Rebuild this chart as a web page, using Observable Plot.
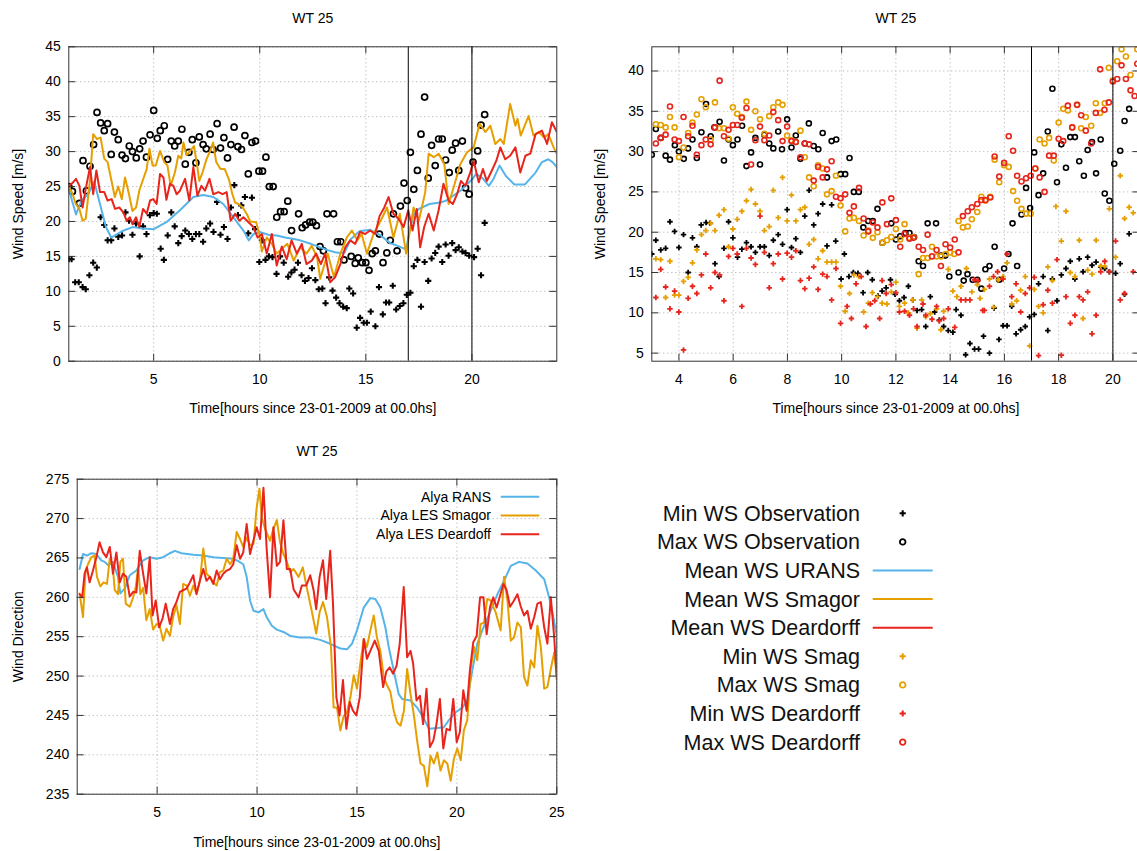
<!DOCTYPE html>
<html><head><meta charset="utf-8">
<script src="https://cdn.jsdelivr.net/npm/d3@7"></script>
<script src="https://cdn.jsdelivr.net/npm/@observablehq/plot@0.6"></script>
<style>
html,body{margin:0;padding:0;background:#fff;overflow:hidden;}
#wrap{position:relative;width:1137px;height:851px;overflow:hidden;font-family:"Liberation Sans",Arial,sans-serif;background:#fff;}
.panel{position:absolute;}
</style></head><body><div id="wrap"></div>
<script>
// ---------------- DATA ----------------
const plotTitle = "WT 25";
const xLabel = "Time[hours since 23-01-2009 at 00.0hs]";
const wsLabel = "Wind Speed [m/s]";
const wdLabel = "Wind Direction";

// observations (time h, wind speed m/s)
const obsMax = [[1.0,25.0],[1.17,24.3],[1.5,22.6],[1.67,28.7],[1.83,24.4],[2.0,27.9],[2.17,31.0],[2.33,35.6],[2.5,34.1],[2.67,33.0],[2.83,34.0],[3.0,29.6],[3.15,32.8],[3.33,31.7],[3.51,29.5],[3.67,29.0],[3.85,30.8],[4.0,30.0],[4.18,29.1],[4.34,30.4],[4.5,31.5],[4.66,29.2],[4.83,32.4],[5.0,35.9],[5.17,31.9],[5.31,33.0],[5.5,33.7],[5.66,28.9],[5.83,31.5],[5.99,30.8],[6.16,31.5],[6.33,33.2],[6.49,28.2],[6.66,29.9],[6.82,31.7],[6.99,28.4],[7.15,32.1],[7.33,31.0],[7.48,30.4],[7.66,32.5],[7.8,30.3],[7.99,34.0],[8.15,30.5],[8.31,32.0],[8.48,29.1],[8.64,31.0],[8.79,33.5],[8.97,30.7],[9.14,30.3],[9.3,32.3],[9.46,26.8],[9.63,31.3],[9.8,31.5],[9.96,27.2],[10.13,27.2],[10.29,29.2],[10.45,25.0],[10.63,25.0],[10.8,20.6],[10.98,21.4],[11.15,21.4],[11.32,22.9],[11.5,18.7],[11.83,21.1],[12.0,19.1],[12.16,19.5],[12.35,19.9],[12.5,19.9],[12.67,19.4],[12.84,16.4],[13.0,15.8],[13.17,21.1],[13.48,21.1],[13.66,17.1],[13.82,17.1],[13.97,14.5],[14.31,15.0],[14.5,14.0],[14.64,14.8],[14.83,14.1],[15.0,14.1],[15.15,13.0],[15.3,15.4],[15.45,15.8],[15.64,18.2],[15.81,14.1],[15.99,15.5],[16.15,17.3],[16.3,21.1],[16.47,15.8],[16.63,22.2],[16.8,25.5],[16.95,23.0],[17.1,29.9],[17.26,24.6],[17.43,27.3],[17.6,32.5],[17.77,37.8],[17.94,26.2],[18.1,30.9],[18.27,28.0],[18.43,31.8],[18.6,31.8],[18.76,28.8],[18.93,27.0],[19.07,30.2],[19.23,31.2],[19.38,27.3],[19.55,31.5],[19.7,24.8],[19.87,23.9],[20.05,28.5],[20.27,30.1],[20.43,33.8],[20.6,35.3]];
const obsMin = [[1.0,14.6],[1.13,14.6],[1.3,11.3],[1.47,11.3],[1.65,10.6],[1.8,10.3],[1.97,12.3],[2.15,14.1],[2.32,13.4],[2.5,20.6],[2.67,19.5],[2.83,17.3],[3.0,17.3],[3.15,19.0],[3.33,17.8],[3.51,18.0],[3.67,21.3],[3.84,20.1],[4.0,18.1],[4.17,19.7],[4.34,15.0],[4.5,19.3],[4.66,18.2],[4.82,20.9],[5.0,21.2],[5.15,21.1],[5.33,16.1],[5.48,14.5],[5.66,18.0],[5.83,21.3],[5.99,19.3],[6.16,16.9],[6.32,17.9],[6.49,18.7],[6.66,18.2],[6.82,17.5],[6.99,18.2],[7.15,18.2],[7.33,17.1],[7.48,19.0],[7.66,19.7],[7.82,18.5],[7.99,22.8],[8.15,18.1],[8.31,19.2],[8.48,17.5],[8.64,22.0],[8.8,25.2],[8.97,20.9],[9.13,22.3],[9.3,23.5],[9.46,18.3],[9.63,23.4],[9.78,18.9],[9.98,14.2],[10.1,17.3],[10.27,14.5],[10.43,15.0],[10.6,14.9],[10.79,12.5],[10.96,15.0],[11.13,14.1],[11.34,12.1],[11.49,12.7],[11.64,13.1],[11.8,14.1],[11.97,12.3],[12.13,11.5],[12.3,11.9],[12.46,13.3],[12.62,11.6],[12.78,10.3],[12.95,10.4],[13.1,8.3],[13.27,12.0],[13.43,10.1],[13.6,9.1],[13.76,8.3],[13.93,7.8],[14.1,7.6],[14.22,10.4],[14.4,9.7],[14.57,4.8],[14.73,6.2],[14.9,5.5],[15.05,5.5],[15.23,7.1],[15.45,5.0],[15.62,10.6],[15.8,6.7],[15.95,8.4],[16.1,8.4],[16.27,10.8],[16.43,7.4],[16.6,7.9],[16.77,8.3],[16.93,9.5],[17.1,9.8],[17.26,13.6],[17.43,14.5],[17.6,7.8],[17.77,14.2],[17.94,11.5],[18.1,14.7],[18.27,15.5],[18.43,16.4],[18.6,14.2],[18.76,16.7],[18.9,15.1],[19.07,16.9],[19.23,15.9],[19.38,16.3],[19.55,15.7],[19.7,15.5],[19.87,15.1],[20.1,14.9],[20.27,16.1],[20.43,12.3],[20.6,19.8]];

// mean wind speed (time h, m/s)
const meanUrans = [[1.0,24.9],[1.15,23.0],[1.34,21.0],[1.6,23.0],[1.9,23.9],[2.2,25.7],[2.47,22.5],[2.75,19.2],[3.0,17.7],[3.18,18.0],[3.5,18.6],[4.0,19.2],[4.5,19.0],[5.0,18.9],[5.6,19.9],[6.24,21.6],[6.87,23.5],[7.34,23.8],[7.81,23.5],[8.28,22.5],[8.76,20.6],[9.23,18.7],[9.48,17.3],[9.7,18.2],[10.0,18.5],[10.4,18.1],[10.8,18.0],[11.2,17.7],[11.6,17.5],[11.9,17.3],[12.4,16.8],[12.85,16.3],[13.2,15.9],[13.55,15.6],[13.8,15.5],[14.0,15.6],[14.3,17.5],[14.7,18.6],[15.2,18.8],[15.7,18.0],[16.15,16.9],[16.5,16.5],[16.9,16.0],[17.05,18.5],[17.25,21.0],[17.5,21.8],[18.0,22.5],[18.5,22.7],[18.8,23.0],[19.5,24.5],[20.0,26.0],[20.2,26.8],[20.5,26.2],[20.8,25.1],[21.0,26.0],[21.3,28.0],[21.6,26.5],[22.0,25.3],[22.5,25.3],[23.0,27.0],[23.3,28.5],[23.6,28.9],[23.8,28.5],[24.0,27.8]];
const meanSmag = [[1.0,25.0],[1.17,24.0],[1.33,22.5],[1.5,21.8],[1.65,20.1],[1.8,20.4],[2.0,26.0],[2.15,32.5],[2.33,31.8],[2.5,32.0],[2.67,29.0],[2.83,28.5],[3.0,26.0],[3.17,23.5],[3.33,25.0],[3.5,23.2],[3.65,26.3],[3.83,24.0],[4.0,21.5],[4.17,22.0],[4.33,24.5],[4.5,26.0],[4.67,27.5],[4.8,30.4],[4.95,28.0],[5.1,28.0],[5.3,30.1],[5.5,28.5],[5.65,28.0],[5.8,25.1],[6.0,27.0],[6.16,29.4],[6.3,29.0],[6.4,31.3],[6.55,29.5],[6.7,30.0],[6.9,30.8],[7.05,28.0],[7.15,25.8],[7.3,27.0],[7.5,29.0],[7.65,30.0],[7.8,31.3],[7.95,28.5],[8.15,27.5],[8.35,27.5],[8.55,26.0],[8.7,24.0],[8.84,22.7],[9.0,22.5],[9.2,22.0],[9.4,21.0],[9.55,20.0],[9.83,19.9],[10.0,18.0],[10.1,15.7],[10.33,17.7],[10.57,16.8],[10.8,15.4],[11.04,16.1],[11.3,16.8],[11.6,14.4],[11.9,16.3],[12.2,15.4],[12.45,16.5],[12.7,14.9],[12.85,11.8],[13.2,15.4],[13.5,12.0],[13.8,15.4],[14.1,17.7],[14.34,18.7],[14.6,17.3],[14.8,18.2],[15.05,15.4],[15.36,18.2],[15.7,20.1],[16.0,22.0],[16.3,17.7],[16.6,21.1],[16.9,15.4],[17.25,22.0],[17.5,20.1],[17.8,24.2],[17.96,29.7],[18.2,29.2],[18.43,29.7],[18.7,28.2],[18.9,22.5],[19.14,24.9],[19.45,28.2],[19.77,29.9],[20.08,30.6],[20.36,34.0],[20.63,32.8],[20.87,33.7],[21.1,31.1],[21.34,31.8],[21.5,31.1],[21.8,36.8],[22.05,33.7],[22.15,34.7],[22.3,32.3],[22.67,35.1],[22.9,32.3],[23.15,32.8],[23.4,32.0],[23.6,32.5],[23.85,30.6],[24.0,29.7]];
const meanDeard = [[1.0,25.1],[1.17,25.5],[1.34,26.1],[1.5,25.1],[1.65,22.0],[1.8,24.7],[2.0,27.8],[2.15,23.9],[2.3,27.3],[2.47,24.2],[2.67,24.2],[2.83,23.0],[3.02,23.2],[3.18,21.8],[3.38,22.0],[3.57,21.3],[3.73,20.1],[3.88,20.6],[4.0,19.6],[4.17,20.6],[4.32,19.2],[4.5,21.8],[4.67,21.1],[4.83,23.0],[4.98,23.2],[5.14,22.5],[5.3,26.8],[5.46,26.3],[5.6,23.1],[5.77,25.4],[5.93,25.1],[6.08,23.9],[6.24,24.4],[6.48,26.1],[6.68,23.0],[6.87,27.8],[7.06,23.7],[7.25,25.1],[7.42,24.4],[7.63,26.1],[7.81,23.9],[8.05,24.2],[8.25,23.9],[8.44,24.2],[8.63,20.1],[8.84,21.1],[9.04,20.1],[9.23,20.6],[9.47,19.9],[9.7,19.2],[9.9,17.7],[10.1,18.2],[10.33,15.4],[10.57,18.2],[10.8,13.7],[11.04,16.4],[11.27,14.6],[11.5,17.3],[11.75,15.4],[11.98,16.8],[12.2,13.9],[12.45,14.4],[12.66,15.4],[12.88,13.9],[13.08,15.4],[13.32,11.3],[13.55,12.0],[13.8,13.9],[14.03,16.3],[14.26,17.3],[14.5,16.8],[14.73,18.5],[14.97,18.2],[15.2,18.7],[15.44,18.2],[15.65,20.8],[15.87,22.0],[16.07,23.5],[16.3,21.1],[16.54,20.4],[16.78,19.2],[17.0,21.6],[17.2,18.7],[17.4,21.8],[17.56,16.3],[17.75,19.2],[17.96,21.1],[18.2,18.7],[18.43,21.6],[18.66,25.4],[18.9,23.0],[19.1,22.5],[19.3,23.9],[19.48,25.8],[19.69,25.1],[19.9,26.8],[20.08,28.7],[20.32,25.6],[20.52,27.5],[20.7,25.8],[20.94,27.3],[21.15,28.7],[21.34,30.6],[21.57,28.9],[21.8,29.4],[22.05,30.6],[22.28,27.0],[22.52,29.4],[22.75,29.7],[23.0,32.5],[23.3,33.0],[23.54,31.1],[23.77,34.2],[24.0,32.8]];

// simulated min / max wind speed (time h, m/s)
const smagMax = [[3.15,33.4],[3.33,33.3],[3.51,33.0],[3.67,34.3],[3.84,33.0],[4.0,29.3],[4.17,30.5],[4.34,32.3],[4.5,33.6],[4.66,34.6],[4.83,36.5],[4.99,35.5],[5.17,31.5],[5.33,36.1],[5.48,32.9],[5.66,32.9],[5.83,31.6],[5.99,35.5],[6.15,34.7],[6.32,34.3],[6.49,36.2],[6.66,32.7],[6.82,35.0],[6.99,34.0],[7.15,32.2],[7.33,34.4],[7.48,35.5],[7.66,36.1],[7.82,35.8],[7.99,32.0],[8.15,31.4],[8.31,31.2],[8.48,32.6],[8.64,29.3],[8.8,26.8],[8.97,25.7],[9.13,28.3],[9.3,27.9],[9.46,24.7],[9.63,25.1],[9.79,27.0],[9.96,23.3],[10.13,20.1],[10.29,21.7],[10.45,21.8],[10.64,21.4],[10.81,19.6],[10.98,20.2],[11.15,19.3],[11.32,20.0],[11.5,18.7],[11.67,19.0],[11.83,19.4],[12.0,20.4],[12.16,19.1],[12.32,21.0],[12.5,19.3],[12.65,19.4],[12.84,14.8],[13.0,16.8],[13.17,16.8],[13.33,18.2],[13.5,17.0],[13.66,17.0],[13.83,17.3],[14.0,17.5],[14.15,17.3],[14.31,21.4],[14.47,20.6],[14.65,20.7],[14.8,21.6],[15.0,22.5],[15.15,24.4],[15.3,23.9],[15.48,24.4],[15.64,29.0],[15.81,26.2],[15.99,28.3],[16.16,28.1],[16.32,25.1],[16.47,23.9],[16.63,22.9],[16.8,22.3],[16.97,22.3],[17.14,27.9],[17.3,31.5],[17.48,31.0],[17.65,31.7],[17.82,28.9],[18.0,33.6],[18.17,35.3],[18.34,35.1],[18.5,33.0],[18.68,35.8],[18.83,32.9],[19.0,34.3],[19.2,33.2],[19.37,36.0],[19.53,34.8],[19.7,36.0],[19.85,40.4],[20.0,38.8],[20.16,41.2],[20.32,42.7],[20.48,41.8],[20.65,39.5],[20.9,42.7]];
const smagMin = [[3.15,16.7],[3.33,16.6],[3.51,11.9],[3.67,16.4],[3.84,12.2],[4.0,12.2],[4.17,13.9],[4.34,14.4],[4.5,16.2],[4.66,17.8],[4.83,19.7],[4.99,20.2],[5.17,21.1],[5.33,20.2],[5.48,22.1],[5.66,22.8],[5.83,18.2],[5.99,20.4],[6.15,21.6],[6.32,22.6],[6.49,23.9],[6.66,25.3],[6.82,23.5],[6.99,22.6],[7.15,20.2],[7.33,20.7],[7.48,25.2],[7.66,21.8],[7.82,26.8],[7.99,21.4],[8.15,24.6],[8.31,21.4],[8.48,22.8],[8.64,23.1],[8.8,18.5],[8.97,19.1],[9.13,16.7],[9.3,17.7],[9.46,16.3],[9.63,16.3],[9.79,16.3],[9.96,13.3],[10.13,10.2],[10.29,12.4],[10.45,14.7],[10.64,14.5],[10.81,10.1],[10.98,11.2],[11.13,12.5],[11.32,12.0],[11.49,11.2],[11.67,11.1],[11.83,12.6],[12.0,13.8],[12.13,10.8],[12.32,11.2],[12.46,10.0],[12.62,11.6],[12.78,8.1],[12.95,11.6],[13.1,9.5],[13.27,9.9],[13.5,10.5],[13.66,7.9],[13.76,10.2],[13.93,15.4],[14.1,12.7],[14.25,12.0],[14.4,13.3],[14.6,15.5],[14.8,12.6],[15.0,13.5],[15.1,11.8],[15.26,12.9],[15.45,14.2],[15.6,10.7],[15.77,14.1],[15.95,14.5],[16.1,16.2],[16.27,11.1],[16.45,11.5],[16.6,12.8],[16.77,14.5],[16.93,5.9],[17.1,12.9],[17.26,10.8],[17.43,10.0],[17.6,15.7],[17.77,14.0],[17.9,23.2],[18.1,18.9],[18.27,22.6],[18.43,15.0],[18.6,14.5],[18.76,19.0],[18.9,9.3],[19.07,15.3],[19.23,14.8],[19.38,19.0],[19.55,15.8],[19.7,15.8],[19.87,22.9],[20.1,16.9],[20.27,27.0],[20.43,21.7],[20.6,23.1],[20.75,22.4]];
const deardMax = [[3.15,31.0],[3.33,31.7],[3.51,32.1],[3.67,35.6],[3.84,31.5],[4.0,31.3],[4.17,34.3],[4.34,31.9],[4.5,33.2],[4.66,29.6],[4.83,30.8],[4.99,31.5],[5.17,30.9],[5.33,33.0],[5.5,38.8],[5.66,31.9],[5.83,32.7],[5.99,33.3],[6.15,33.3],[6.32,34.2],[6.49,35.4],[6.66,28.4],[6.82,31.4],[6.99,33.1],[7.15,31.4],[7.33,32.0],[7.48,34.9],[7.66,33.9],[7.82,31.3],[7.99,33.1],[8.15,31.3],[8.31,31.2],[8.48,29.3],[8.64,31.0],[8.8,30.9],[8.97,26.4],[9.13,28.1],[9.3,26.8],[9.46,27.8],[9.63,28.8],[9.79,24.4],[9.96,24.2],[10.13,24.7],[10.29,22.4],[10.45,23.2],[10.64,25.5],[10.81,21.7],[10.98,20.1],[11.15,21.2],[11.32,20.6],[11.5,23.7],[11.67,21.0],[11.83,24.2],[12.0,21.5],[12.16,18.2],[12.32,19.8],[12.5,19.2],[12.65,19.3],[12.84,18.2],[13.0,17.8],[13.17,19.7],[13.33,17.0],[13.5,17.8],[13.66,15.8],[13.83,18.5],[14.0,18.1],[14.17,19.1],[14.31,17.5],[14.47,22.0],[14.65,22.6],[14.8,23.1],[15.0,23.5],[15.15,24.0],[15.3,24.0],[15.48,24.3],[15.64,29.4],[15.81,26.9],[15.99,28.6],[16.16,31.9],[16.32,30.1],[16.47,27.0],[16.63,26.3],[16.8,26.7],[16.97,27.0],[17.14,27.9],[17.3,26.8],[17.48,25.0],[17.65,29.5],[17.82,29.5],[18.0,31.6],[18.17,31.3],[18.34,35.7],[18.5,33.0],[18.68,35.8],[18.83,34.5],[19.0,32.6],[19.2,31.0],[19.37,34.8],[19.53,40.2],[19.69,35.2],[19.85,36.1],[20.0,38.7],[20.16,39.0],[20.32,40.7],[20.48,39.0],[20.65,37.6],[20.8,36.9],[20.9,40.9]];
const deardMin = [[3.15,11.9],[3.33,15.4],[3.51,13.2],[3.67,10.5],[3.84,12.7],[4.0,10.1],[4.17,5.4],[4.34,11.8],[4.5,13.3],[4.66,12.4],[4.83,14.7],[4.99,17.3],[5.17,13.1],[5.33,15.0],[5.5,14.7],[5.66,11.5],[5.83,17.0],[5.99,18.0],[6.15,17.3],[6.32,10.8],[6.49,18.0],[6.66,16.8],[6.82,16.0],[6.99,22.0],[7.15,17.5],[7.33,13.1],[7.48,16.1],[7.66,17.3],[7.82,14.2],[7.99,17.4],[8.15,16.9],[8.31,17.7],[8.48,14.0],[8.64,13.0],[8.8,14.3],[8.97,15.7],[9.13,12.9],[9.3,14.8],[9.46,14.5],[9.63,11.6],[9.79,15.5],[9.96,8.7],[10.2,10.8],[10.36,9.3],[10.53,13.6],[10.72,14.5],[10.9,8.3],[11.06,11.1],[11.22,11.5],[11.4,9.3],[11.49,14.0],[11.64,12.4],[11.83,13.5],[12.0,12.5],[12.13,10.1],[12.32,10.2],[12.5,9.7],[12.65,10.5],[12.78,8.3],[13.0,11.1],[13.1,9.7],[13.33,9.2],[13.5,10.8],[13.6,9.0],[13.76,9.3],[13.93,10.5],[14.17,8.2],[14.4,11.6],[14.57,11.6],[14.73,11.6],[14.9,14.1],[15.03,14.0],[15.2,10.3],[15.26,10.3],[15.45,13.3],[15.6,14.5],[15.75,15.1],[15.95,14.2],[16.1,17.3],[16.27,12.0],[16.43,13.6],[16.6,10.1],[16.77,12.4],[16.93,13.1],[17.1,14.4],[17.26,4.7],[17.43,11.0],[17.6,12.8],[17.77,11.2],[17.94,16.6],[18.1,4.75],[18.27,12.0],[18.43,8.7],[18.6,9.7],[18.76,12.0],[18.9,11.6],[19.07,12.6],[19.23,7.4],[19.38,9.7],[19.55,15.1],[19.7,16.4],[19.87,15.1],[20.1,18.9],[20.27,11.6],[20.43,12.4],[20.75,15.1]];

// wind direction (time h, degrees)
const dirRans = [[1.12,263.6],[1.29,265.5],[1.49,265.3],[1.71,265.6],[1.96,265.5],[2.2,264.7],[2.37,264.5],[2.54,264.1],[2.79,264.5],[3.04,262.6],[3.16,260.5],[3.38,261.1],[3.63,262.8],[3.96,263.4],[4.3,264.7],[4.63,265.1],[4.97,264.9],[5.3,265.1],[5.64,265.6],[5.89,265.9],[6.22,265.6],[6.81,265.4],[7.31,265.3],[7.81,265.1],[8.31,265.0],[8.81,264.9],[9.06,264.6],[9.31,264.2],[9.48,262.6],[9.65,259.6],[9.82,258.3],[10.07,258.1],[10.32,258.5],[10.48,257.5],[10.74,256.4],[10.99,255.9],[11.32,255.6],[11.66,255.1],[12.16,254.9],[12.66,254.9],[13.16,254.6],[13.66,254.1],[14.17,253.5],[14.5,253.4],[14.75,254.1],[15.0,255.8],[15.34,258.7],[15.67,259.9],[15.92,259.8],[16.17,258.7],[16.42,256.2],[16.59,253.7],[16.84,250.7],[17.09,247.7],[17.26,247.1],[17.68,246.9],[18.01,246.0],[18.35,244.6],[18.6,243.3],[19.02,243.4],[19.35,243.5],[19.6,244.4],[19.94,245.4],[20.27,246.0],[20.52,246.9],[20.77,250.7],[21.02,254.1],[21.27,255.8],[21.69,258.3],[22.03,260.4],[22.36,262.1],[22.7,264.0],[23.11,264.5],[23.53,264.3],[23.95,263.4],[24.37,262.3],[24.7,259.2],[25.0,255.1]];
const dirSmag = [[1.12,260.5],[1.29,257.5],[1.42,263.4],[1.54,264.2],[1.71,265.1],[1.87,265.3],[1.99,262.6],[2.16,261.4],[2.32,261.9],[2.49,261.7],[2.63,264.9],[2.79,263.6],[2.88,260.9],[3.04,260.4],[3.16,264.5],[3.29,264.9],[3.43,259.2],[3.63,258.8],[3.8,260.0],[3.93,261.3],[4.05,263.8],[4.16,260.4],[4.3,261.2],[4.46,257.1],[4.63,258.5],[4.8,255.9],[4.97,256.6],[5.13,256.4],[5.3,254.5],[5.47,256.0],[5.64,255.1],[5.8,257.5],[5.97,259.0],[6.14,256.6],[6.3,261.7],[6.47,261.5],[6.64,260.2],[6.81,261.5],[6.97,260.5],[7.14,262.1],[7.31,266.2],[7.47,263.0],[7.64,262.6],[7.81,261.9],[7.98,261.5],[8.14,263.2],[8.31,263.4],[8.48,264.9],[8.65,264.2],[8.81,264.9],[8.98,268.3],[9.15,267.4],[9.31,266.4],[9.48,267.6],[9.65,266.6],[9.82,266.8],[9.98,271.4],[10.12,273.8],[10.23,270.2],[10.4,268.7],[10.65,267.2],[10.82,268.7],[10.99,269.8],[11.15,267.0],[11.32,265.5],[11.49,264.5],[11.66,263.2],[11.83,263.6],[12.08,262.6],[12.29,263.8],[12.5,261.1],[12.75,258.1],[12.96,255.4],[13.13,258.1],[13.3,259.4],[13.5,257.5],[13.7,253.7],[13.83,246.0],[14.0,246.0],[14.17,243.1],[14.33,244.9],[14.5,245.4],[14.67,247.3],[14.84,250.1],[15.0,248.4],[15.17,251.6],[15.34,254.7],[15.5,253.7],[15.67,255.8],[15.84,257.7],[16.0,254.9],[16.17,253.2],[16.34,249.9],[16.51,248.8],[16.67,248.0],[16.84,245.6],[17.01,244.1],[17.18,243.7],[17.35,245.6],[17.51,250.9],[17.68,247.7],[17.85,245.0],[18.01,241.8],[18.18,238.9],[18.35,238.6],[18.52,236.0],[18.68,239.9],[18.85,238.9],[19.02,240.3],[19.18,238.0],[19.35,239.3],[19.52,238.9],[19.69,236.7],[19.85,239.5],[20.02,240.8],[20.19,239.3],[20.35,243.1],[20.52,244.4],[20.69,250.9],[20.86,253.7],[21.02,252.0],[21.19,256.6],[21.36,256.8],[21.52,259.8],[21.69,259.6],[21.94,258.1],[22.19,255.8],[22.36,262.6],[22.53,259.6],[22.7,254.5],[22.86,254.9],[23.03,256.8],[23.2,256.2],[23.36,249.9],[23.53,248.8],[23.7,252.0],[23.87,251.1],[24.03,256.4],[24.2,253.7],[24.37,248.4],[24.53,248.6],[24.7,250.9],[24.87,253.0],[25.0,249.9]];
const dirDeard = [[1.12,260.4],[1.25,260.0],[1.37,263.0],[1.49,263.8],[1.62,261.9],[1.79,263.4],[1.96,265.1],[2.12,267.0],[2.29,265.7],[2.46,265.1],[2.63,266.4],[2.79,263.0],[2.96,265.7],[3.13,261.9],[3.29,263.0],[3.46,262.6],[3.63,260.1],[3.8,260.7],[3.96,260.6],[4.13,265.9],[4.3,263.0],[4.46,260.5],[4.63,265.1],[4.77,257.7],[4.93,259.6],[5.1,256.2],[5.27,257.3],[5.43,259.2],[5.64,256.6],[5.8,258.5],[5.97,259.4],[6.14,260.7],[6.3,260.9],[6.47,261.1],[6.64,261.9],[6.81,262.8],[6.97,260.4],[7.14,262.1],[7.31,263.6],[7.47,262.1],[7.64,262.6],[7.81,261.7],[7.98,263.4],[8.14,262.3],[8.31,263.0],[8.48,263.4],[8.65,263.6],[8.81,264.2],[8.98,266.6],[9.15,264.9],[9.31,265.7],[9.48,269.3],[9.65,265.5],[9.82,267.2],[9.98,268.9],[10.15,267.4],[10.32,273.9],[10.48,266.2],[10.65,260.0],[10.82,268.9],[10.99,264.0],[11.15,264.5],[11.32,269.8],[11.49,263.6],[11.66,263.6],[11.83,261.0],[12.08,260.0],[12.24,261.5],[12.46,261.5],[12.66,262.8],[12.83,260.9],[12.96,258.5],[13.13,262.6],[13.3,264.7],[13.46,259.8],[13.66,265.9],[13.8,259.2],[13.97,247.3],[14.13,245.0],[14.3,249.5],[14.47,243.3],[14.64,246.7],[14.8,245.6],[14.97,245.0],[15.14,247.3],[15.34,254.7],[15.5,252.2],[15.67,253.2],[15.89,254.5],[16.09,253.2],[16.31,248.6],[16.47,250.6],[16.64,251.1],[16.81,250.3],[16.98,251.3],[17.14,254.1],[17.34,261.3],[17.51,252.4],[17.68,253.2],[17.81,251.6],[17.98,246.9],[18.15,247.5],[18.31,243.9],[18.48,248.4],[18.65,241.0],[18.82,241.8],[18.98,243.9],[19.15,247.1],[19.32,240.8],[19.48,243.3],[19.65,243.1],[19.82,247.1],[19.99,241.6],[20.15,242.9],[20.32,248.2],[20.49,245.6],[20.65,250.7],[20.82,254.3],[20.99,255.1],[21.16,260.0],[21.33,260.0],[21.49,255.3],[21.66,258.8],[21.82,260.0],[21.99,258.7],[22.16,260.2],[22.33,261.7],[22.49,260.9],[22.66,258.8],[22.86,259.6],[23.03,260.4],[23.2,258.8],[23.36,257.7],[23.53,258.3],[23.7,256.0],[23.87,257.5],[24.03,259.2],[24.2,259.4],[24.37,256.2],[24.53,254.1],[24.7,260.0],[24.87,254.9],[25.0,249.6]];

// ticks and markers
const xTicksA = [5, 10, 15, 20];
const yTicksA = [0, 5, 10, 15, 20, 25, 30, 35, 40, 45];
const xTicksB = [4, 6, 8, 10, 12, 14, 16, 18, 20];
const yTicksB = [5, 10, 15, 20, 25, 30, 35, 40];
const xTicksC = [5, 10, 15, 20, 25];
const yTicksC = [235, 240, 245, 250, 255, 260, 265, 270, 275];
const markerHours = [17, 20];

const dirLegendLabels = ["Alya RANS", "Alya LES Smagor", "Alya LES Deardoff"];
const bigLegendLabels = ["Min WS Observation","Max WS Observation","Mean WS URANS","Mean WS Smagor","Mean WS Deardorff","Min WS Smag","Max WS Smag","Min WS Deardorff","Max WS Deardorff"];
const bigLegendKinds = ["plus","circle","line","line","line","plus","circle","plus","circle"];

// ---------------- STYLE ----------------
const FONT = '"Liberation Sans", Arial, Helvetica, sans-serif';
const COL = {blue:"#56B4E9", orange:"#E69F00", red:"#E8251C", black:"#000000"};
const bigLegendColors = [COL.black,COL.black,COL.blue,COL.orange,COL.red,COL.orange,COL.orange,COL.red,COL.red];
const dirLegendColors = [COL.blue, COL.orange, COL.red];
const FRAME = "#333333";

const wrap = document.getElementById("wrap");
const X = d => d[0], Y = d => d[1];

function panel(cfg) {
  const {left, top, width, height, ml, mr, mt, mb, xdom, ydom, xticks, yticks, marks, vlines = [], ylabel, ylabelDx, titleDy, xlabelDy} = cfg;
  const pw = width - ml - mr, ph = height - mt - mb;
  const all = [
    Plot.gridX(xticks, {stroke: "#aaaaaa", strokeOpacity: 1, strokeWidth: 1, strokeDasharray: "1,3"}),
    Plot.gridY(yticks, {stroke: "#aaaaaa", strokeOpacity: 1, strokeWidth: 1, strokeDasharray: "1,3"}),
    ...marks,
    Plot.ruleX(vlines, {x: d => d, stroke: "#000", strokeWidth: 1}),
    Plot.tickX(xticks, {x: d => d, insetTop: ph - 7, stroke: FRAME}),
    Plot.tickX(xticks, {x: d => d, insetBottom: ph - 7, stroke: FRAME}),
    Plot.tickY(yticks, {y: d => d, insetRight: pw - 7, stroke: FRAME}),
    Plot.tickY(yticks, {y: d => d, insetLeft: pw - 7, stroke: FRAME}),
    Plot.frame({stroke: FRAME, strokeWidth: 1}),
    Plot.axisX(xticks, {tickSize: 0, tickPadding: 13, fontSize: 14, label: null, fill: "#000"}),
    Plot.axisY(yticks, {tickSize: 0, tickPadding: 8, fontSize: 14, label: null, fill: "#000"}),
    Plot.text([plotTitle], {text: d => d, frameAnchor: "top", dy: titleDy, lineAnchor: "middle", fontSize: 14, fill: "#000"}),
    Plot.text([xLabel], {text: d => d, frameAnchor: "bottom", dy: xlabelDy, lineAnchor: "middle", fontSize: 14, fill: "#000"}),
    Plot.text([ylabel], {text: d => d, frameAnchor: "left", dx: ylabelDx, rotate: -90, textAnchor: "middle", lineAnchor: "middle", fontSize: 14, fill: "#000"})
  ];
  const svg = Plot.plot({
    width, height, marginLeft: ml, marginRight: mr, marginTop: mt, marginBottom: mb,
    x: {domain: xdom}, y: {domain: ydom},
    style: {fontFamily: FONT, fontSize: "14px", color: "#000", background: "transparent", maxWidth: "none"},
    marks: all
  });
  const div = document.createElement("div");
  div.className = "panel";
  div.style.left = left + "px"; div.style.top = top + "px";
  div.style.width = width + "px"; div.style.height = height + "px";
  div.appendChild(svg);
  wrap.appendChild(div);
}

const plusMarks = (data, color, r) => Plot.dot(data, {x: X, y: Y, symbol: "cross", fill: color, stroke: "none", r, clip: true});
const circleMarks = (data, color, r, sw) => Plot.dot(data, {x: X, y: Y, symbol: "circle", fill: "none", stroke: color, strokeWidth: sw, r, clip: true});
const lineMark = (data, color) => Plot.line(data, {x: X, y: Y, stroke: color, strokeWidth: 2, strokeLinejoin: "round", clip: true});

// Top-left: wind speed with means
panel({
  left: 0, top: 0, width: 570, height: 420, ml: 68.3, mr: 13.7, mt: 46.3, mb: 59.3,
  xdom: [1, 24], ydom: [0, 45], xticks: xTicksA, yticks: yTicksA, vlines: markerHours,
  ylabel: wsLabel, ylabelDx: -50, titleDy: -28, xlabelDy: 47,
  marks: [
    plusMarks(obsMin, COL.black, 2.6),
    circleMarks(obsMax, COL.black, 3.0, 1.7),
    lineMark(meanUrans, COL.blue),
    lineMark(meanSmag, COL.orange),
    lineMark(meanDeard, COL.red)
  ]
});

// Top-right: min / max scatter
panel({
  left: 580, top: 0, width: 580, height: 420, ml: 71.3, mr: 20.5, mt: 46.3, mb: 59.3,
  xdom: [3, 21], ydom: [4, 43], xticks: xTicksB, yticks: yTicksB, vlines: markerHours,
  ylabel: wsLabel, ylabelDx: -51, titleDy: -28, xlabelDy: 47,
  marks: [
    plusMarks(obsMin, COL.black, 2.3),
    circleMarks(obsMax, COL.black, 2.5, 1.6),
    plusMarks(smagMin, COL.orange, 2.3),
    circleMarks(smagMax, COL.orange, 2.5, 1.6),
    plusMarks(deardMin, COL.red, 2.3),
    circleMarks(deardMax, COL.red, 2.5, 1.6)
  ]
});

// Bottom-left: wind direction
panel({
  left: 0, top: 430, width: 570, height: 421, ml: 76.7, mr: 13.7, mt: 48.7, mb: 57.3,
  xdom: [1, 25], ydom: [235, 275], xticks: xTicksC, yticks: yTicksC,
  ylabel: wdLabel, ylabelDx: -58.7, titleDy: -28, xlabelDy: 48,
  marks: [
    lineMark(dirRans, COL.blue),
    lineMark(dirSmag, COL.orange),
    lineMark(dirDeard, COL.red)
  ]
});

// ---------------- LEGENDS (overlay) ----------------
const ov = d3.select(wrap).append("svg")
  .attr("width", 1137).attr("height", 851)
  .style("position", "absolute").style("left", 0).style("top", 0)
  .style("font-family", FONT);

// legend inside wind-direction panel
dirLegendLabels.forEach((lab, i) => {
  const cy = 496.7 + i * 18.8;
  ov.append("text").attr("x", 491).attr("y", cy).attr("dy", "0.35em")
    .attr("text-anchor", "end").attr("font-size", 14).attr("fill", "#000").text(lab);
  ov.append("line").attr("x1", 500.7).attr("x2", 539.3).attr("y1", cy).attr("y2", cy)
    .attr("stroke", dirLegendColors[i]).attr("stroke-width", 2);
});

// big legend
const symPlus = d3.symbol(d3.symbolCross, Math.PI * 2.6 * 2.6)();
const symCircle = d3.symbol(d3.symbolCircle, Math.PI * 2.8 * 2.8)();
bigLegendLabels.forEach((lab, i) => {
  const cy = 513.3 + i * 28.6;
  ov.append("text").attr("x", 860).attr("y", cy).attr("dy", "0.35em")
    .attr("text-anchor", "end").attr("font-size", 21.5).attr("fill", "#111").text(lab);
  const k = bigLegendKinds[i], c = bigLegendColors[i];
  if (k === "line") {
    ov.append("line").attr("x1", 872.7).attr("x2", 932.7).attr("y1", cy).attr("y2", cy)
      .attr("stroke", c).attr("stroke-width", 2);
  } else if (k === "plus") {
    ov.append("path").attr("d", symPlus).attr("transform", `translate(902.7,${cy})`).attr("fill", c);
  } else {
    ov.append("path").attr("d", symCircle).attr("transform", `translate(902.7,${cy})`)
      .attr("fill", "none").attr("stroke", c).attr("stroke-width", 1.8);
  }
});
</script>
</body></html>
